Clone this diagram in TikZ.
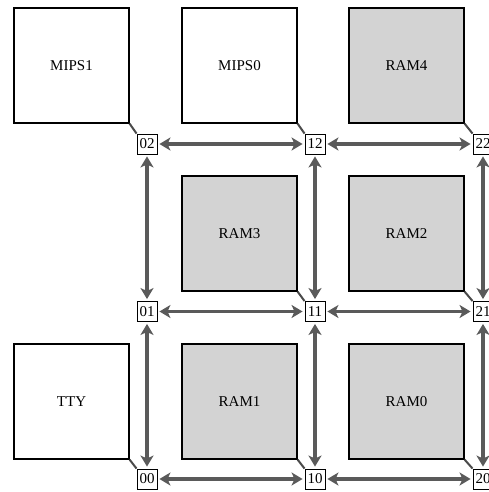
\documentclass[tikz,border=0pt]{standalone}
\usepackage{fontspec}
\setmainfont{Liberation Serif}
\usetikzlibrary{arrows.meta}

\definecolor{ramgray}{HTML}{D3D3D3}
\definecolor{linkgray}{HTML}{5A5A5A}
\definecolor{tapgray}{HTML}{4A4A4A}

\tikzset{
  tile/.style={draw, line width=1.1pt, minimum size=115pt, inner sep=0pt},
  ram/.style={tile, fill=ramgray},
  router/.style={draw, fill=white, line width=0.9pt, minimum size=20pt, inner sep=0pt},
  link/.style={draw=linkgray, line width=3.2pt,
    {Stealth[length=11pt,width=13pt,inset=3pt]}-{Stealth[length=11pt,width=13pt,inset=3pt]},
    shorten <=2pt, shorten >=2pt},
  tap/.style={draw=tapgray, line width=2pt}
}

\begin{document}
\begin{tikzpicture}[x=1pt,y=-1pt,font=\fontsize{15}{18}\selectfont]
\useasboundingbox (0,0) rectangle (488,492);

% tiles
\node[tile] (mips1) at (71.5,65.5) {MIPS1};
\node[tile] (mips0) at (239.5,65.5) {MIPS0};
\node[ram]  (ram4)  at (406.5,65.5) {RAM4};
\node[ram]  (ram3)  at (239.5,233.5) {RAM3};
\node[ram]  (ram2)  at (406.5,233.5) {RAM2};
\node[tile] (tty)   at (71.5,401.5) {TTY};
\node[ram]  (ram1)  at (239.5,401.5) {RAM1};
\node[ram]  (ram0)  at (406.5,401.5) {RAM0};

% routers
\node[router] (r02) at (147,144) {02};
\node[router] (r12) at (315,144) {12};
\node[router] (r22) at (483,144) {22};
\node[router] (r01) at (147,311.5) {01};
\node[router] (r11) at (315,311.5) {11};
\node[router] (r21) at (483,311.5) {21};
\node[router] (r00) at (147,479) {00};
\node[router] (r10) at (315,479) {10};
\node[router] (r20) at (483,479) {20};

% tiles to routers
\draw[tap] (mips1.south east) -- (r02.north west);
\draw[tap] (mips0.south east) -- (r12.north west);
\draw[tap] (ram4.south east) -- (r22.north west);
\draw[tap] (ram3.south east) -- (r11.north west);
\draw[tap] (ram2.south east) -- (r21.north west);
\draw[tap] (tty.south east) -- (r00.north west);
\draw[tap] (ram1.south east) -- (r10.north west);
\draw[tap] (ram0.south east) -- (r20.north west);

% mesh links
\draw[link] (r02) -- (r12);
\draw[link] (r12) -- (r22);
\draw[link] (r01) -- (r11);
\draw[link] (r11) -- (r21);
\draw[link] (r00) -- (r10);
\draw[link] (r10) -- (r20);
\draw[link] (r02) -- (r01);
\draw[link] (r01) -- (r00);
\draw[link] (r12) -- (r11);
\draw[link] (r11) -- (r10);
\draw[link] (r22) -- (r21);
\draw[link] (r21) -- (r20);
\end{tikzpicture}
\end{document}
